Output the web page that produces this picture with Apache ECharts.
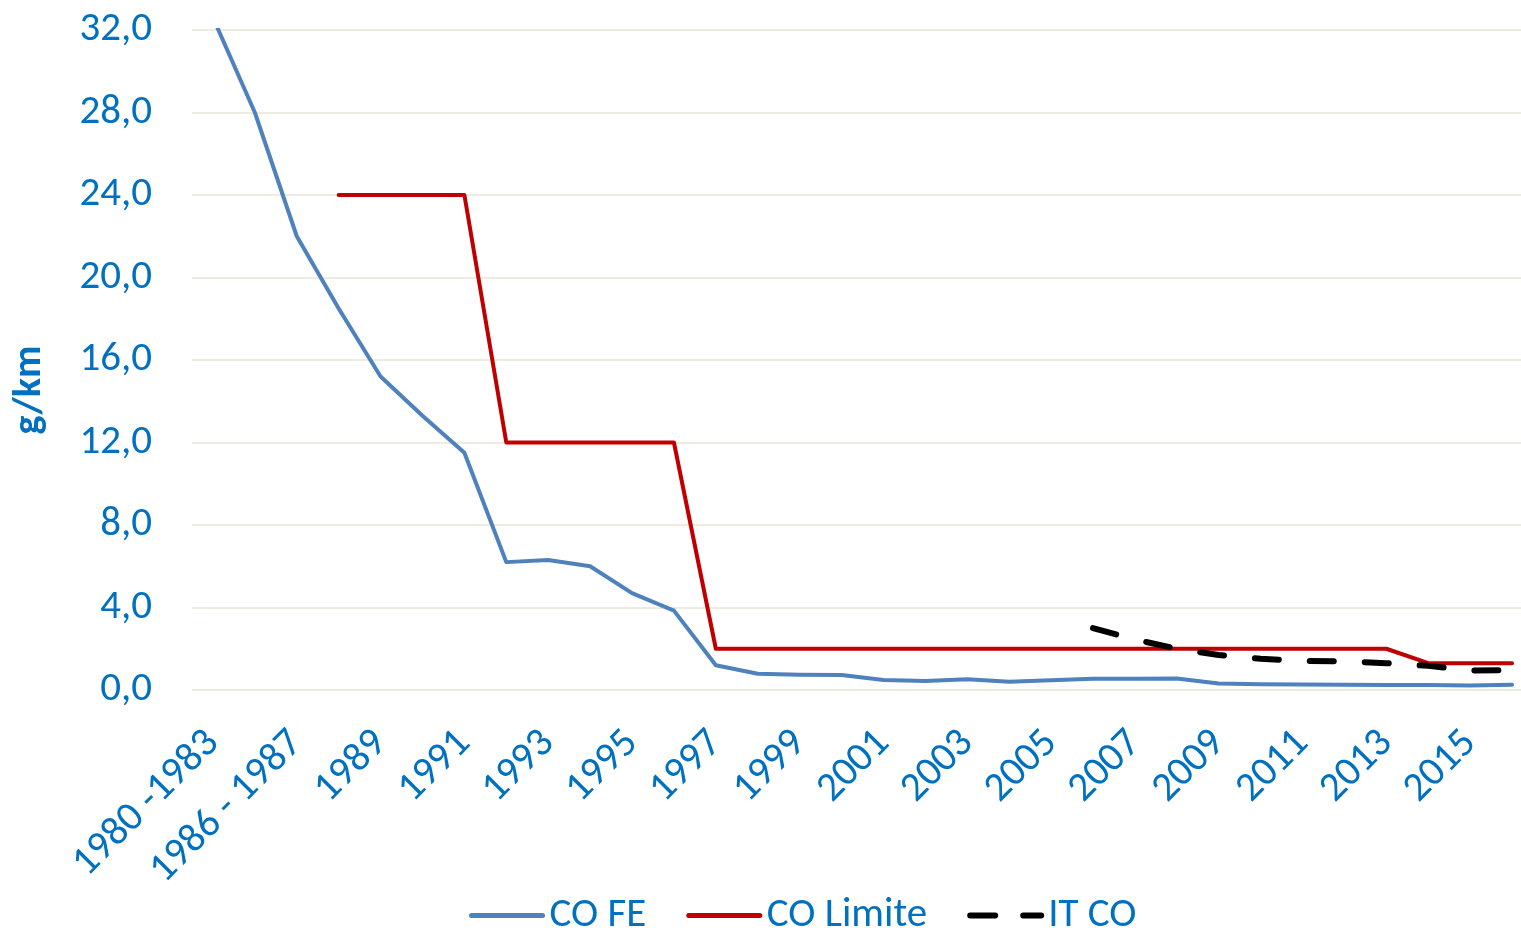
<!DOCTYPE html>
<html>
<head>
<meta charset="utf-8">
<script src="https://cdn.jsdelivr.net/npm/echarts@6/dist/echarts.min.js"></script>
<style>
  html, body { margin: 0; padding: 0; background: #fff; }
  #chart { width: 1521px; height: 931px; }
</style>
</head>
<body>
<div id="chart"></div>
<script>
const years = ["1980 -1983", "1984 - 1985", "1986 - 1987", "1988", "1989", "1990", "1991", "1992",
  "1993", "1994", "1995", "1996", "1997", "1998", "1999", "2000", "2001", "2002", "2003", "2004",
  "2005", "2006", "2007", "2008", "2009", "2010", "2011", "2012", "2013", "2014", "2015", "2016"];

const coFE = [32.6, 28.0, 22.0, 18.5, 15.2, 13.3, 11.5, 6.2, 6.3, 6.0, 4.7, 3.85, 1.2, 0.79,
  0.74, 0.73, 0.48, 0.44, 0.52, 0.40, 0.47, 0.55, 0.55, 0.56, 0.32, 0.28, 0.27, 0.26, 0.24,
  0.24, 0.22, 0.25];

const coLimite = [null, null, null, 24, 24, 24, 24, 12, 12, 12, 12, 12, 2, 2, 2, 2, 2, 2, 2, 2,
  2, 2, 2, 2, 2, 2, 2, 2, 2, 1.3, 1.3, 1.3];

const itCO = [null, null, null, null, null, null, null, null, null, null, null, null, null, null,
  null, null, null, null, null, null, null, 3.0, 2.45, 2.0, 1.7, 1.52, 1.41, 1.39, 1.3, 1.17,
  0.94, 0.97];

const yTicks = { min: 0, max: 32, step: 4 };

const font = "Carlito, Lato, 'Open Sans', sans-serif";
const blueText = "#0070C0";

const chart = echarts.init(document.getElementById('chart'));

chart.setOption({
  animation: false,
  backgroundColor: "#ffffff",
  grid: {
    left: 192,
    top: 30,
    width: 1341,
    height: 660,
    containLabel: false,
    outerBoundsMode: "none"
  },
  legend: {
    top: 890,
    left: 464,
    itemWidth: 71,
    itemHeight: 10,
    itemGap: 40,
    itemStyle: { opacity: 0 },
    lineStyle: { width: 5, cap: "round" },
    textStyle: { color: blueText, fontSize: 41, fontFamily: font, padding: [0, 0, 0, 2] },
    data: [
      { name: "CO FE" },
      { name: "CO Limite" },
      { name: "IT CO", lineStyle: { width: 6, type: [25, 28], cap: "round" } }
    ]
  },
  xAxis: {
    type: "category",
    data: years,
    boundaryGap: true,
    axisLine: { show: false },
    axisTick: { show: false },
    splitLine: { show: false },
    axisLabel: {
      interval: 1,
      rotate: 45,
      margin: 47,
      color: blueText,
      fontSize: 41,
      fontFamily: font
    }
  },
  yAxis: {
    type: "value",
    min: yTicks.min,
    max: yTicks.max,
    interval: yTicks.step,
    name: "g/km",
    nameLocation: "middle",
    nameGap: 142,
    nameTextStyle: {
      color: blueText, fontSize: 40, fontWeight: "bold", fontFamily: font,
      padding: [0, 60, 0, 0]
    },
    axisLine: { show: false },
    axisTick: { show: false },
    splitLine: { lineStyle: { color: "#EEECE1", width: 2 } },
    axisLabel: {
      margin: 40,
      color: blueText,
      fontSize: 41,
      fontFamily: font,
      formatter: v => v.toFixed(1).replace(".", ",")
    }
  },
  series: [
    {
      name: "CO FE",
      type: "line",
      data: coFE,
      symbol: "none",
      color: "#4F81BD",
      lineStyle: { width: 4, color: "#4F81BD", cap: "round", join: "round" }
    },
    {
      name: "CO Limite",
      type: "line",
      data: coLimite,
      symbol: "none",
      color: "#C00000",
      lineStyle: { width: 4, color: "#C00000", cap: "round", join: "round" }
    },
    {
      name: "IT CO",
      type: "line",
      data: itCO,
      symbol: "none",
      color: "#000000",
      lineStyle: { width: 6, color: "#000000", type: [24, 31], cap: "round", join: "round" }
    }
  ]
});
</script>
</body>
</html>
